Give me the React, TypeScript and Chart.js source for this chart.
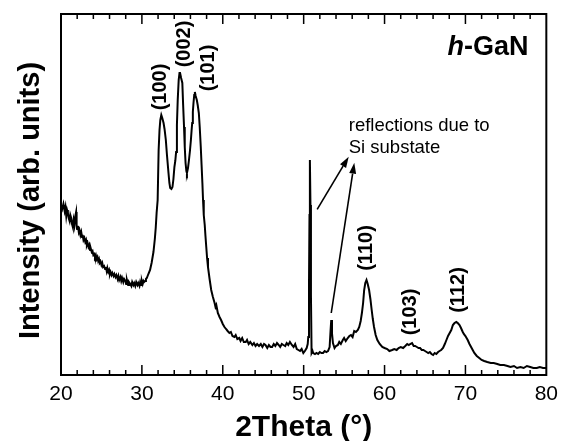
import React, { useEffect, useRef } from 'react';
import { Chart, registerables } from 'chart.js';

Chart.register(...registerables);

// ---- Data (2Theta in degrees, intensity in arbitrary units) ----
const twoTheta = [
  20.0, 20.15, 20.3, 20.45, 20.55, 20.65, 20.75, 20.85, 20.95, 21.06, 21.15, 21.26, 21.36, 21.46, 21.56, 21.66, 21.75, 21.87, 21.93, 21.99,
  22.1, 22.2, 22.28, 22.4, 22.5, 22.6, 22.68, 22.78, 22.89, 23.0, 23.1, 23.2, 23.29, 23.4, 23.5, 23.6, 23.7, 23.8, 23.9, 24.0,
  24.11, 24.2, 24.3, 24.4, 24.51, 24.6, 24.7, 24.8, 24.91, 25.0, 25.1, 25.2, 25.33, 25.45, 25.55, 25.65, 25.73, 25.85, 25.95, 26.05,
  26.13, 26.25, 26.35, 26.5, 26.6, 26.74, 26.85, 27.0, 27.1, 27.2, 27.35, 27.45, 27.55, 27.7, 27.8, 27.96, 28.05, 28.15, 28.3, 28.4,
  28.57, 28.7, 28.8, 28.95, 29.05, 29.18, 29.3, 29.45, 29.55, 29.7, 29.79, 29.9, 30.0, 30.1, 30.2, 30.28, 30.4, 30.5, 30.61, 30.8,
  31.01, 31.2, 31.43, 31.6, 31.71, 31.82, 31.95, 32.07, 32.18, 32.28, 32.4, 32.52, 32.68, 32.8, 32.96, 33.1, 33.29, 33.4, 33.5, 33.65,
  33.78, 33.9, 34.02, 34.13, 34.23, 34.33, 34.43, 34.55, 34.65, 34.72, 34.85, 35.0, 35.1, 35.21, 35.3, 35.4, 35.5, 35.57, 35.7, 35.82,
  35.94, 36.06, 36.14, 36.22, 36.3, 36.38, 36.47, 36.55, 36.65, 36.79, 36.9, 37.04, 37.15, 37.28, 37.38, 37.48, 37.56, 37.65, 37.77, 37.86,
  37.96, 38.06, 38.17, 38.37, 38.57, 38.78, 38.99, 39.1, 39.2, 39.39, 39.6, 39.79, 40.0, 40.21, 40.4, 40.6, 40.82, 41.0, 41.2, 41.43,
  41.6, 41.8, 42.04, 42.2, 42.4, 42.6, 42.84, 43.0, 43.2, 43.4, 43.66, 43.85, 44.05, 44.25, 44.48, 44.7, 44.9, 45.1, 45.28, 45.5,
  45.7, 45.9, 46.1, 46.3, 46.5, 46.7, 46.91, 47.1, 47.3, 47.5, 47.72, 47.9, 48.1, 48.3, 48.54, 48.75, 48.95, 49.15, 49.35, 49.55,
  49.75, 49.96, 50.15, 50.37, 50.5, 50.57, 50.66, 50.72, 50.77, 50.84, 50.9, 50.98, 51.1, 51.18, 51.4, 51.59, 51.79, 52.0, 52.2, 52.4,
  52.6, 52.8, 53.01, 53.21, 53.33, 53.41, 53.5, 53.62, 53.82, 54.0, 54.23, 54.4, 54.6, 54.84, 55.0, 55.2, 55.45, 55.65, 55.85, 56.05,
  56.25, 56.46, 56.7, 56.87, 57.05, 57.2, 57.35, 57.48, 57.62, 57.77, 57.92, 58.09, 58.25, 58.41, 58.55, 58.7, 58.9, 59.11, 59.4, 59.72,
  60.0, 60.33, 60.6, 60.94, 61.2, 61.5, 61.74, 62.0, 62.3, 62.56, 62.8, 63.0, 63.17, 63.4, 63.6, 63.78, 64.0, 64.2, 64.39, 64.6,
  64.8, 65.0, 65.2, 65.4, 65.6, 65.8, 66.01, 66.2, 66.4, 66.62, 66.8, 67.0, 67.23, 67.45, 67.65, 67.85, 68.05, 68.25, 68.45, 68.65,
  68.87, 69.05, 69.27, 69.45, 69.67, 69.8, 70.0, 70.28, 70.5, 70.7, 70.9, 71.1, 71.4, 71.71, 72.0, 72.32, 72.7, 73.13, 73.5, 73.94,
  74.3, 74.76, 75.2, 75.57, 76.0, 76.38, 76.8, 77.2, 77.6, 78.01, 78.4, 78.82, 79.2, 79.6, 80.0,
];

const intensity = [
  170, 166, 171, 164, 168, 159, 165, 162, 157, 154, 160, 157, 151, 148, 155, 150, 158, 163, 150, 146,
  149, 143, 145, 140, 143, 138, 140, 135, 137, 133, 135, 130, 132, 128, 130, 125, 126, 123, 124, 120,
  121, 118, 120, 116, 118, 114, 116, 112, 113, 110, 112, 108, 109, 106, 108, 104, 107, 103, 105, 101,
  103, 100, 102, 99, 101, 98, 100, 96, 99, 95, 98, 94, 97, 93, 96, 94, 91, 95, 90, 93,
  91, 89, 93, 90, 92, 89, 93, 90, 92, 89, 93, 90, 94, 91, 94, 93, 94, 96, 97, 101,
  105, 112, 123, 136, 147, 162, 175, 225, 245, 255, 260, 257, 252, 246, 235, 220, 202, 192, 187, 186,
  188, 196, 208, 214, 223, 250, 275, 295, 302, 302, 297, 292, 270, 248, 228, 212, 204, 202, 207, 215,
  224, 235, 244, 252, 263, 272, 280, 283, 279, 275, 270, 262, 248, 228, 210, 192, 175, 160, 150, 139,
  128, 117, 108, 96, 85, 78, 72, 68, 70, 62, 58, 55, 51, 48, 46, 44, 42, 43, 39, 38,
  40, 36, 37, 34, 37, 33, 33, 35, 31, 33, 30, 32, 29, 31, 29, 31, 28, 31, 30, 27,
  30, 28, 28, 31, 29, 32, 30, 28, 31, 30, 29, 32, 30, 33, 30, 28, 31, 26, 25, 24,
  26, 22, 24, 27, 31, 38, 90, 160, 215, 170, 80, 22, 24, 22, 21, 22, 21, 23, 22, 22,
  24, 23, 24, 28, 45, 55, 42, 32, 27, 29, 30, 33, 31, 35, 37, 34, 37, 39, 40, 38,
  44, 43, 45, 48, 54, 62, 72, 85, 92, 95, 91, 85, 76, 65, 56, 48, 40, 35, 31, 28,
  27, 26, 24, 25, 26, 25, 27, 28, 27, 29, 31, 30, 31, 32, 29, 29, 28, 27, 27, 25,
  25, 24, 23, 22, 23, 21, 20, 22, 21, 23, 24, 25, 27, 31, 35, 39, 42, 45, 50, 52,
  53, 52, 50, 47, 43, 41, 39, 35, 31, 28, 25, 22, 19, 17, 15, 14, 13, 12, 12, 11,
  10, 10, 9, 8, 9, 7, 8, 7, 9, 8, 7, 7, 8, 7, 7,
];

const xMin = 20;
const xMax = 80;
const xMajorStep = 10;
const xMinorStep = 2;
const yMin = 0;
const yMax = 361;

const xTitle = '2Theta (°)';
const yTitle = 'Intensity (arb. units)';

// Peak (hkl) labels, anchored at (2Theta, intensity)
const peakLabels = ['(100)', '(002)', '(101)', '(110)', '(103)', '(112)'];
const peakLabelTheta = [32.28, 35.21, 38.27, 57.77, 63.26, 69.15];
const peakLabelIntensity = [288, 331, 307, 127, 63, 85];

// Sample label
const sampleLabelItalic = 'h';
const sampleLabelRest = '-GaN';
const sampleLabelTheta = 77.8;
const sampleLabelIntensity = 327;

// Note with arrows pointing at the Si reflections
const noteLines = ['reflections due to', 'Si substate'];
const noteTheta = 55.57;
const noteIntensity = [249, 227];
const arrowFromTheta = [51.67, 53.41];
const arrowFromIntensity = [165.7, 62];
const arrowToTheta = [55.57, 56.26];
const arrowToIntensity = [218.3, 212.3];

const FONT = "'Liberation Sans', Arial, sans-serif";

const decorPlugin = {
  id: 'decor',
  afterDatasetsDraw(chart: any) {
    const { ctx, chartArea: a, scales } = chart;
    const x = scales.x;
    const y = scales.y;
    ctx.save();
    // frame
    ctx.strokeStyle = '#000';
    ctx.lineWidth = 2;
    ctx.strokeRect(a.left, a.top, a.right - a.left, a.bottom - a.top);
    // inward ticks on bottom and top
    ctx.lineWidth = 1.5;
    ctx.beginPath();
    for (let v = xMin + xMinorStep; v < xMax; v += xMinorStep) {
      const px = x.getPixelForValue(v);
      const len = v % xMajorStep === 0 ? 10 : 5;
      ctx.moveTo(px, a.bottom);
      ctx.lineTo(px, a.bottom - len);
      ctx.moveTo(px, a.top);
      ctx.lineTo(px, a.top + len);
    }
    ctx.stroke();

    ctx.fillStyle = '#000';
    // y axis title (rotated)
    ctx.font = `bold 29px ${FONT}`;
    ctx.textAlign = 'center';
    ctx.textBaseline = 'middle';
    ctx.save();
    ctx.translate(31, (a.top + a.bottom) / 2 + 6);
    ctx.rotate(-Math.PI / 2);
    ctx.fillText(yTitle, 0, 0);
    ctx.restore();

    // peak labels (rotated)
    ctx.font = `bold 20px ${FONT}`;
    peakLabels.forEach((t, i) => {
      const px = x.getPixelForValue(peakLabelTheta[i]);
      const py = y.getPixelForValue(peakLabelIntensity[i]);
      ctx.save();
      ctx.translate(px, py);
      ctx.rotate(-Math.PI / 2);
      ctx.fillText(t, 0, 0);
      ctx.restore();
    });

    // sample label h-GaN (right aligned)
    {
      const px = x.getPixelForValue(sampleLabelTheta);
      const py = y.getPixelForValue(sampleLabelIntensity);
      ctx.textAlign = 'left';
      ctx.font = `bold 27px ${FONT}`;
      const wRest = ctx.measureText(sampleLabelRest).width;
      ctx.font = `italic bold 27px ${FONT}`;
      const wH = ctx.measureText(sampleLabelItalic).width;
      ctx.fillText(sampleLabelItalic, px - wRest - wH, py);
      ctx.font = `bold 27px ${FONT}`;
      ctx.fillText(sampleLabelRest, px - wRest, py);
    }

    // note text
    ctx.font = `18.5px ${FONT}`;
    ctx.textAlign = 'left';
    noteLines.forEach((t, i) => {
      ctx.fillText(t, x.getPixelForValue(noteTheta), y.getPixelForValue(noteIntensity[i]));
    });

    // arrows
    ctx.lineWidth = 1.6;
    arrowFromTheta.forEach((_, i) => {
      const x0 = x.getPixelForValue(arrowFromTheta[i]);
      const y0 = y.getPixelForValue(arrowFromIntensity[i]);
      const x1 = x.getPixelForValue(arrowToTheta[i]);
      const y1 = y.getPixelForValue(arrowToIntensity[i]);
      const ang = Math.atan2(y1 - y0, x1 - x0);
      const headLen = 11;
      const headHalf = 3.5;
      const bx = x1 - headLen * Math.cos(ang);
      const by = y1 - headLen * Math.sin(ang);
      ctx.beginPath();
      ctx.moveTo(x0, y0);
      ctx.lineTo(bx, by);
      ctx.stroke();
      ctx.beginPath();
      ctx.moveTo(x1, y1);
      ctx.lineTo(bx + headHalf * Math.sin(ang), by - headHalf * Math.cos(ang));
      ctx.lineTo(bx - headHalf * Math.sin(ang), by + headHalf * Math.cos(ang));
      ctx.closePath();
      ctx.fill();
    });
    ctx.restore();
  },
};

export default function App() {
  const ref = useRef<HTMLCanvasElement>(null);
  useEffect(() => {
    const canvas = ref.current;
    if (!canvas) return;
    const points = twoTheta.map((t, i) => ({ x: t, y: intensity[i] }));
    const chart = new Chart(canvas, {
      type: 'line',
      data: {
        datasets: [
          {
            data: points,
            borderColor: '#000',
            borderWidth: 2,
            pointRadius: 0,
            tension: 0,
            fill: false,
          },
        ],
      },
      options: {
        animation: false,
        responsive: false,
        layout: { padding: { top: 14, right: 12, left: 0, bottom: 0 } },
        plugins: { legend: { display: false }, tooltip: { enabled: false } },
        scales: {
          x: {
            type: 'linear',
            min: xMin,
            max: xMax,
            grid: { display: false, drawTicks: false },
            border: { display: false },
            ticks: {
              stepSize: xMajorStep,
              autoSkip: false,
              maxRotation: 0,
              padding: 7,
              color: '#000',
              font: { family: FONT, size: 21 },
            },
            title: {
              display: true,
              text: xTitle,
              color: '#000',
              padding: 0,
              font: { family: FONT, size: 30, weight: 'bold', lineHeight: 0.86 },
            },
            afterFit: (s: any) => {
              s.height = 66;
            },
          },
          y: {
            type: 'linear',
            min: yMin,
            max: yMax,
            grid: { display: false, drawTicks: false },
            border: { display: false },
            ticks: { display: false },
            title: { display: false },
            afterFit: (s: any) => {
              s.width = 61;
            },
          },
        },
      },
      plugins: [decorPlugin],
    });
    return () => chart.destroy();
  }, []);
  return (
    <div style={{ position: 'absolute', left: 0, top: 0, width: 565, height: 441, background: '#fff' }}>
      <canvas ref={ref} width={565} height={441} style={{ display: 'block' }} />
    </div>
  );
}
